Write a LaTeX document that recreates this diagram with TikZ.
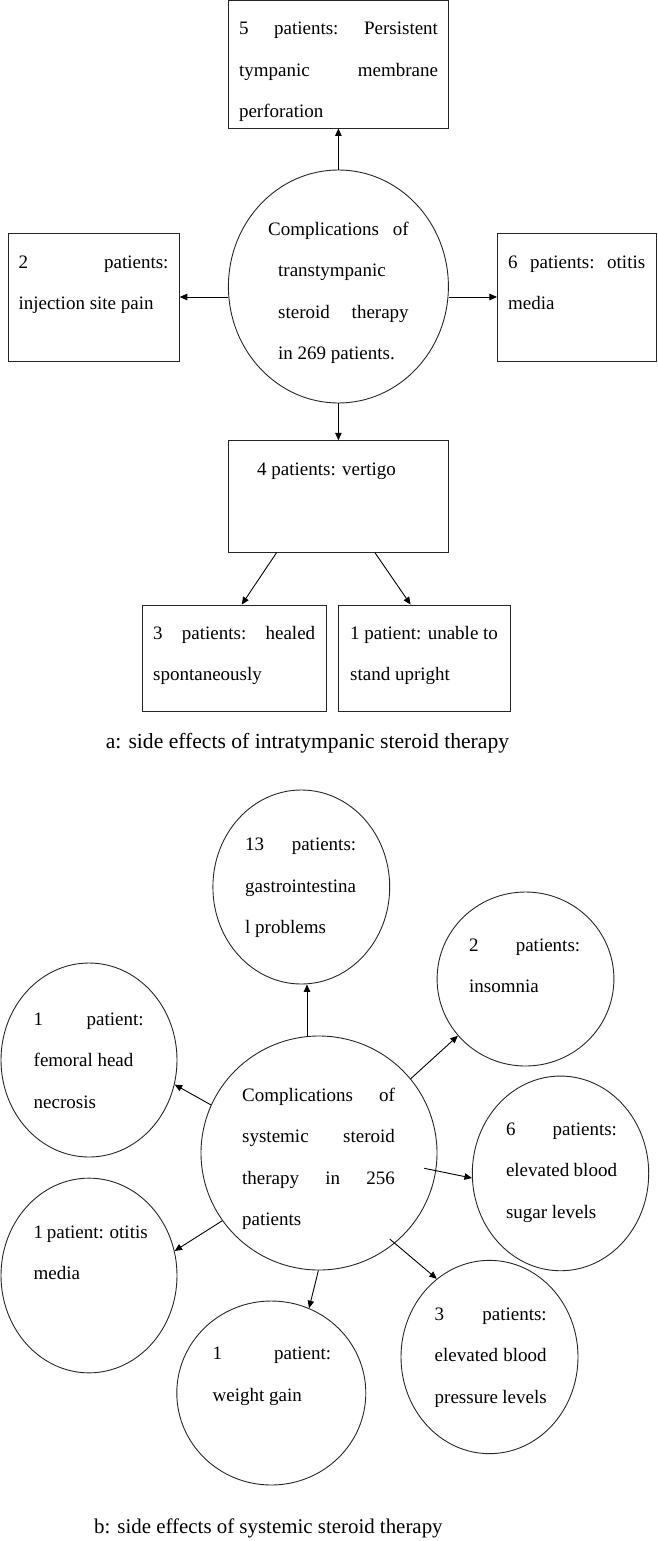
\documentclass[tikz,border=0pt]{standalone}
\usepackage{fontspec}
\setmainfont{Liberation Serif}
\usetikzlibrary{shapes.geometric,arrows.meta,calc}
\begin{document}
\begin{tikzpicture}[x=1pt,y=-1pt,
  box/.style={draw=black!85, line width=0.9pt, rectangle, inner sep=0pt},
  oval/.style={draw=black!85, line width=0.9pt, ellipse, inner sep=0pt},
  arr/.style={draw=black, line width=0.9pt, -{Triangle[length=7.5pt,width=6.5pt]}},
  txt/.style={inner sep=0pt, anchor=base west, font=\fontsize{19}{41.5}\selectfont},
  captext/.style={inner sep=0pt, anchor=base west}]
\useasboundingbox (0,0) rectangle (657,1541);

% ---------- part a ----------
\node[box, minimum width=219.9pt, minimum height=127.5pt] (tb) at (338.4,64.25) {};
\node[oval, minimum width=220pt, minimum height=233pt] (ea) at (338.4,286.5) {};
\node[box, minimum width=171.3pt, minimum height=128pt] (lb) at (93.65,297) {};
\node[box, minimum width=158.9pt, minimum height=128pt] (rb) at (576.85,297) {};
\node[box, minimum width=220.5pt, minimum height=111.6pt] (vb) at (338.4,496.5) {};
\node[box, minimum width=183.5pt, minimum height=106pt] (bl) at (234.25,658) {};
\node[box, minimum width=171.4pt, minimum height=106pt] (br) at (424.3,658) {};

\node[txt] (ttb) at (238.8,35) {\parbox[t]{199pt}{5\hfill patients:\hfill Persistent\\ tympanic\hfill membrane\\ perforation}};
\node[txt] (tea) at (278,235) {\parbox[t]{130.5pt}{\hspace*{-10pt}Complications\hfill of\\ transtympanic\\ steroid\hfill therapy\\ in 269 patients.}};
\node[txt] (tlb) at (18.3,268) {\parbox[t]{150pt}{2\hfill patients:\\ injection site pain}};
\node[txt] (trb) at (508,268) {\parbox[t]{137pt}{6\hfill patients:\hfill otitis\\ media}};
\node[txt] (tvb) at (257,475) {4 patients: vertigo};
\node[txt] (tbl) at (153,639) {\parbox[t]{162pt}{3\hfill patients:\hfill healed\\ spontaneously}};
\node[txt] (tbr) at (350,639) {\parbox[t]{150pt}{1 patient: unable to\\ stand upright}};
\node[captext, font=\fontsize{21.6}{26}\selectfont] (capa) at (105.6,748) {a: side effects of intratympanic steroid therapy};

\draw[arr] (ea.north) -- (tb.south);
\draw[arr] (ea.west |- lb.east) -- (lb.east);
\draw[arr] (ea.east |- rb.west) -- (rb.west);
\draw[arr] (ea.south) -- (vb.north);
\draw[arr] ($(vb.south)+(-61.9,0)$) -- ($(bl.north)+(7.5,0)$);
\draw[arr] ($(vb.south)+(36.6,0)$) -- ($(br.north)+(-13.7,0)$);

% ---------- part b ----------
\node[oval, minimum width=176.8pt, minimum height=194pt] (t13) at (301.3,887) {};
\node[oval, minimum width=176.8pt, minimum height=174pt] (ins) at (525.5,979) {};
\node[oval, minimum width=176pt, minimum height=194pt] (fem) at (89,1060) {};
\node[oval, minimum width=236pt, minimum height=234pt] (cb) at (319,1153) {};
\node[oval, minimum width=176.4pt, minimum height=194.7pt] (sug) at (560.5,1173.4) {};
\node[oval, minimum width=176pt, minimum height=194.7pt] (oti) at (89,1275.5) {};
\node[oval, minimum width=189pt, minimum height=184pt] (wgt) at (271.3,1393) {};
\node[oval, minimum width=177pt, minimum height=193.3pt] (bp) at (489.5,1357) {};

\node[txt] (tt13) at (245,850.5) {\parbox[t]{111pt}{13\hfill patients:\\ gastrointestina\\ l problems}};
\node[txt] (tins) at (469,951) {\parbox[t]{111pt}{2\hfill patients:\\ insomnia}};
\node[txt] (tfem) at (33.5,1025) {\parbox[t]{110pt}{1\hfill patient:\\ femoral head\\ necrosis}};
\node[txt] (tcb) at (242,1101) {\parbox[t]{152.7pt}{Complications\hfill of\\ systemic\hfill steroid\\ therapy\hfill in\hfill 256\\ patients}};
\node[txt] (tsug) at (505.8,1135) {\parbox[t]{111pt}{6\hfill patients:\\ elevated\hfill blood\\ sugar levels}};
\node[txt] (toti) at (33.5,1238) {\parbox[t]{114pt}{1 patient: otitis\\ media}};
\node[txt] (twgt) at (212.4,1359.5) {\parbox[t]{118.6pt}{1\hfill patient:\\ weight gain}};
\node[txt] (tbp) at (434.5,1320) {\parbox[t]{112pt}{3\hfill patients:\\ elevated\hfill blood\\ pressure levels}};
\node[captext, font=\fontsize{20.9}{25}\selectfont] (capb) at (94,1533) {b: side effects of systemic steroid therapy};

\draw[arr] ($(cb.north)+(-12,0)$) -- ($(t13.south)+(5.7,0)$);
\draw[arr] (cb.39.4) -- (ins.220.9);
\draw[arr] ($(cb.center)+(105.3,15.3)$) -- (sug.183);
\draw[arr] ($(cb.center)+(70.7,86)$) -- (bp.124.9);
\draw[arr] ($(cb.south)+(-0.6,0)$) -- (wgt.66.4);
\draw[arr] (cb.215.2) -- (oti.16.6);
\draw[arr] (cb.156.7) -- (fem.-16.9);
\end{tikzpicture}
\end{document}
